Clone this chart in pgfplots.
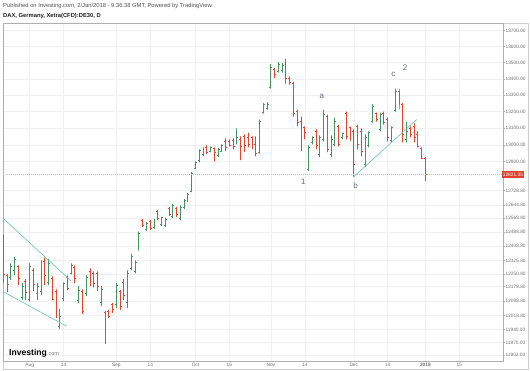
\documentclass[border=0pt]{standalone}
\usepackage{fontspec}
\setmainfont{Liberation Sans}
\usepackage{pgfplots}
\usepackage{pgfplotstable}
\pgfplotsset{compat=1.18}
\definecolor{upc}{RGB}{70,148,100}
\definecolor{dnc}{RGB}{226,70,48}
\definecolor{gridc}{RGB}{240,240,240}
\definecolor{framec}{RGB}{205,205,205}
\definecolor{axc}{RGB}{175,175,175}
\definecolor{labc}{RGB}{110,110,110}
\definecolor{trendc}{RGB}{100,196,178}
\definecolor{annc}{RGB}{95,105,120}
\definecolor{lastc}{RGB}{220,68,46}

% bar index n (trading days from 21 Jul 2017), open, high, low, close
\pgfplotstableread{
n o h l c
0 12460 12473 12198 12244
1 12240 12247 12148 12190
2 12230 12309 12215 12290
3 12270 12348 12242 12330
4 12290 12298 12187 12225
5 12120 12198 12103 12180
6 12205 12220 12103 12145
7 12110 12309 12097 12290
8 12270 12281 12153 12190
9 12140 12198 12103 12180
10 12150 12326 12131 12310
11 12320 12343 12187 12240
12 12200 12337 12187 12310
13 12225 12236 12103 12110
14 12150 12164 12005 12010
15 11960 12054 11946 12015
16 12115 12203 12097 12195
17 12230 12242 12159 12170
18 12255 12309 12247 12295
19 12285 12298 12198 12225
20 12100 12181 12087 12160
21 12150 12164 12027 12040
22 12140 12242 12126 12230
23 12265 12281 12181 12190
24 12250 12264 12175 12195
25 12255 12264 12153 12180
26 12090 12181 12071 12165
27 12035 12043 11863 11935
28 12040 12048 12005 12015
29 12080 12087 12032 12050
30 12080 12198 12059 12185
31 12150 12159 12048 12070
32 12200 12220 12103 12130
33 12090 12270 12059 12255
34 12280 12365 12270 12350
35 12265 12326 12253 12315
36 12390 12490 12382 12480
37 12555 12564 12518 12525
38 12505 12547 12495 12540
39 12550 12558 12501 12510
40 12515 12564 12507 12555
41 12605 12615 12558 12565
42 12530 12575 12524 12570
43 12525 12570 12518 12560
44 12625 12633 12581 12590
45 12580 12650 12570 12640
46 12625 12633 12575 12590
47 12565 12642 12555 12630
48 12630 12679 12621 12670
49 12670 12714 12662 12705
50 12725 12837 12719 12830
51 12860 12901 12854 12895
52 12905 12972 12895 12965
53 12940 12984 12931 12975
54 12985 12996 12943 12955
55 12960 12990 12955 12985
56 12975 12984 12901 12955
57 12935 12978 12925 12970
58 12960 13002 12955 12995
59 13020 13037 12961 12985
60 13020 13031 12990 12995
61 13025 13037 12972 12990
62 13010 13097 13002 13040
63 13030 13049 12907 12990
64 13050 13061 12955 12995
65 13040 13073 12984 13000
66 13040 13049 12972 12985
67 13000 13049 12931 12950
68 12955 13151 12946 13140
69 13195 13250 13186 13240
70 13220 13256 13211 13245
71 13345 13491 13339 13470
72 13455 13466 13406 13425
73 13445 13504 13437 13490
74 13450 13498 13437 13480
75 13500 13523 13370 13400
76 13400 13412 13364 13375
77 13370 13382 13169 13185
78 13200 13211 13109 13130
79 13140 13169 12961 13000
80 13100 13109 13031 13070
81 12855 12996 12843 12985
82 13010 13049 13002 13040
83 13080 13091 12972 12995
84 12940 13055 12925 13040
85 13030 13211 13019 13180
86 13170 13181 12955 12970
87 12940 13055 12925 13030
88 13000 13163 12990 13140
89 13110 13121 12990 13000
90 13040 13073 13031 13065
91 13190 13199 13031 13050
92 13100 13109 13019 13030
93 13080 13091 12807 12880
94 13110 13121 12972 13000
95 13080 13097 12931 12960
96 12880 13061 12866 13040
97 12995 13079 12984 13070
98 13140 13244 13133 13230
99 13185 13193 13139 13150
100 13090 13193 13079 13180
101 13190 13199 13121 13130
102 13150 13163 13019 13040
103 13025 13109 13014 13100
104 13205 13339 13199 13320
105 13320 13339 13211 13240
106 13240 13250 13014 13060
107 13030 13139 13014 13080
108 13095 13109 13043 13060
109 13110 13127 13014 13040
110 13060 13079 12984 12990
111 12980 12984 12913 12920
112 12915 12925 12784 12821.35
}\ohlc

\pgfplotstablegetrowsof{\ohlc}
\pgfmathtruncatemacro{\lastrow}{\pgfplotsretval-1}

% the price scale is logarithmic: positions are ln(price)
\def\ytl{}
\foreach \v [count=\k] in {13700,13600,13500,13400,13300,13200,13100,13000,12900,12728.8,12644.8,12568.8,12488.8,12408.8,12325.8,12250.8,12178.8,12098.8,12018.8,11940,11870,11802}{%
  \pgfmathparse{ln(\v)}%
  \ifnum\k=1 \xdef\ytl{\pgfmathresult}\else\xdef\ytl{\ytl,\pgfmathresult}\fi}
\pgfmathsetmacro\lymin{ln(11770)}
\pgfmathsetmacro\lymax{ln(13745)}
\pgfmathsetmacro\lyOne{ln(12779)}
\pgfmathsetmacro\lyA{ln(13295)}
\pgfmathsetmacro\lyB{ln(12760)}
\pgfmathsetmacro\lyC{ln(13425)}
\pgfmathsetmacro\lyTwo{ln(13466)}
\pgfmathsetmacro\lyLast{ln(12821.35)}

\begin{document}
\begin{tikzpicture}[x=1pt,y=1pt]
\draw[framec, line width=0.6pt] (3,2) rectangle (528,347.5);
\begin{axis}[
  at={(3pt,10pt)}, anchor=south west,
  scale only axis, width=500pt, height=337.5pt,
  xmin=-0.08, xmax=132.6,
  ymin=\lymin, ymax=\lymax,
  y filter/.expression={ln(y)},
  axis line style={axc, line width=0.6pt},
  xtick={7,16,30,39,51,60,71,80,93,102,112,121},
  xticklabels={Aug,14,Sep,14,Oct,16,Nov,14,Dec,14,\textbf{2018},15},
  ytick/.expanded={\ytl},
  yticklabels={13700.00,13600.00,13500.00,13400.00,13300.00,13200.00,13100.00,13000.00,12900.00,12728.80,12644.80,12568.80,12488.80,12408.80,12325.80,12250.80,12178.80,12098.80,12018.80,11940.00,11870.00,11802.00},
  ytick pos=right, yticklabel pos=right,
  xtick pos=bottom,
  ytick align=outside,
  major tick length=1.8pt,
  x tick style={draw=none},
  y tick style={axc, line width=0.5pt},
  grid=major,
  major grid style={gridc, line width=0.5pt},
  xticklabel style={font=\fontsize{4.8}{5}\selectfont, text=labc, inner sep=0pt, anchor=north, yshift=-1.6pt},
  yticklabel style={font=\fontsize{4.8}{5}\selectfont, text=labc, inner sep=0pt, anchor=west, xshift=0.6pt},
]
\pgfplotsforeachungrouped \i in {0,...,\lastrow}{%
  \pgfplotstablegetelem{\i}{n}\of\ohlc \let\bN\pgfplotsretval
  \pgfplotstablegetelem{\i}{o}\of\ohlc \let\bO\pgfplotsretval
  \pgfplotstablegetelem{\i}{h}\of\ohlc \let\bH\pgfplotsretval
  \pgfplotstablegetelem{\i}{l}\of\ohlc \let\bL\pgfplotsretval
  \pgfplotstablegetelem{\i}{c}\of\ohlc \let\bC\pgfplotsretval
  \pgfmathsetmacro\bXL{\bN-0.38}%
  \pgfmathsetmacro\bXR{\bN+0.38}%
  \pgfmathparse{\bC>=\bO}%
  \ifdim\pgfmathresult pt>0.5pt \def\bcol{upc}\else\def\bcol{dnc}\fi
  \edef\doplot{\noexpand\addplot[\bcol, line width=0.95pt, line join=bevel, forget plot] coordinates {(\bXL,\bO) (\bN,\bO) (\bN,\bL) (\bN,\bH) (\bN,\bC) (\bXR,\bC)};}%
  \doplot
}
% last price line
\addplot[lastc!45, dash pattern=on 1pt off 1pt, line width=0.5pt, forget plot] coordinates {(-0.08,12821.35) (132.6,12821.35)};
% trend lines
\addplot[trendc, line width=0.6pt, forget plot] coordinates {(-0.42,12574) (17.9,12212)};
\addplot[trendc, line width=0.6pt, forget plot] coordinates {(-0.42,12155) (16.8,11959)};
\addplot[trendc, line width=0.6pt, forget plot] coordinates {(92.9,12808) (109.7,13151)};
% wave labels
\node[annc, font=\fontsize{8}{9}\selectfont] at (axis cs:79.6,\lyOne) {1};
\node[annc, font=\fontsize{8}{9}\selectfont] at (axis cs:84.5,\lyA) {a};
\node[annc, font=\fontsize{8}{9}\selectfont] at (axis cs:93.5,\lyB) {b};
\node[annc, font=\fontsize{8}{9}\selectfont] at (axis cs:103.5,\lyC) {c};
\node[annc, font=\fontsize{8}{9}\selectfont] at (axis cs:106.6,\lyTwo) {2};
\coordinate (lastp) at (axis cs:132.6,\lyLast);
\end{axis}
\node[fill=lastc, text=white, anchor=west, inner xsep=1.2pt, inner ysep=1.8pt, font=\fontsize{4.8}{5}\selectfont] at ([xshift=-1.5pt]lastp) {12821.35};
\node[anchor=west, inner sep=0pt, text={rgb,255:red,80;green,80;blue,80}, font=\fontsize{5.8}{6.5}\selectfont] at (3,365) {Published on Investing.com, 2/Jan/2018 - 9:36:38 GMT, Powered by TradingView.};
\node[anchor=west, inner sep=0pt, text={rgb,255:red,30;green,30;blue,30}, font=\fontsize{5.8}{6.5}\selectfont\bfseries] at (3,355) {DAX, Germany, Xetra(CFD):DE30, D};
\node[anchor=base west, inner sep=0pt] at (9,15) {{\fontsize{8.6}{9}\selectfont\bfseries Investing}{\fontsize{5.6}{6}\selectfont\color{gray}.com}};
\pgfresetboundingbox
\path (0,0) rectangle (530,371);
\end{tikzpicture}
\end{document}
